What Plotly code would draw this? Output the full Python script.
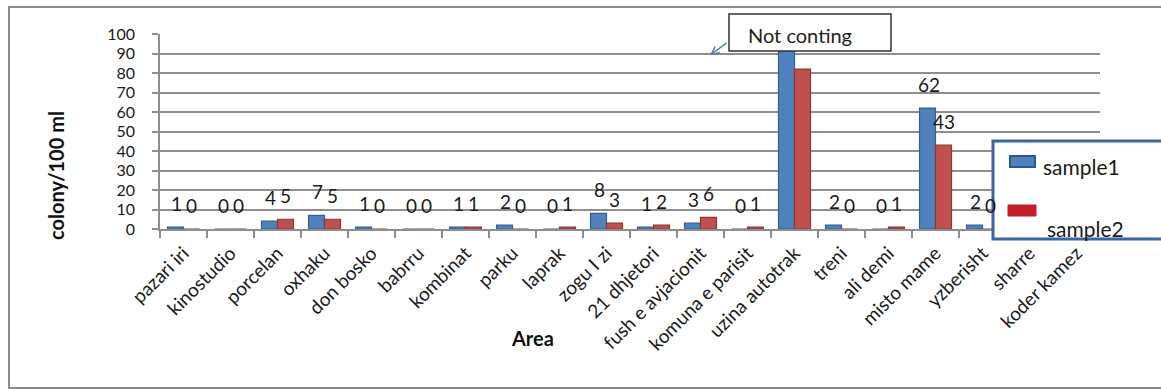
import plotly.graph_objects as go

areas = ["pazari iri", "kinostudio", "porcelan", "oxhaku", "don bosko", "babrru",
         "kombinat", "parku", "laprak", "zogu I zi", "21 dhjetori",
         "fush e avjacionit", "komuna e parisit", "uzina autotrak", "treni",
         "ali demi", "misto mame", "yzberisht", "sharre", "koder kamez"]
sample1 = [1, 0, 4, 7, 1, 0, 1, 2, 0, 8, 1, 3, 0, 100, 2, 0, 62, 2, None, None]
sample2 = [0, 0, 5, 5, 0, 0, 1, 0, 1, 3, 2, 6, 1, 82, 0, 1, 43, 0, None, None]
hidden_labels = {"uzina autotrak", "sharre", "koder kamez"}
note_text = "Not conting"
y_ticks = list(range(0, 101, 10))

W, H = 1161, 390
L, R, T, B = 160, 1100, 34, 229   # plot area in pixels


def px(p):
    return (p - L) / (R - L)


def py(p):
    return (B - p) / (B - T)


FONT = "Lato"
BLUE, RED = "#4F81BD", "#C0504D"
GRID = "#8E8E8E"

fig = go.Figure()
fig.add_trace(go.Bar(x=areas, y=sample1, name="sample1", showlegend=False,
                     marker=dict(color=BLUE, line=dict(color="#36608F", width=1.2))))
fig.add_trace(go.Bar(x=areas, y=sample2, name="sample2", showlegend=False,
                     marker=dict(color=RED, line=dict(color="#8A3835", width=1.2))))

annotations = []
for series, shift in ((sample1, -7), (sample2, 8)):
    for a, v in zip(areas, series):
        if v is None or a in hidden_labels:
            continue
        annotations.append(dict(x=a, y=v, xref="x", yref="y", text=str(v),
                                showarrow=False, xshift=shift, yshift=24,
                                xanchor="center", yanchor="middle",
                                font=dict(family=FONT, size=19, color="#1a1a1a")))

# axis titles
annotations.append(dict(x=px(56), y=py(176), xref="paper", yref="paper",
                        text="<b>colony/100 ml</b>", textangle=-90, showarrow=False,
                        xanchor="center", yanchor="middle",
                        font=dict(family=FONT, size=20, color="#111")))
annotations.append(dict(x=px(532), y=py(338), xref="paper", yref="paper",
                        text="<b>Area</b>", showarrow=False,
                        xanchor="center", yanchor="middle",
                        font=dict(family=FONT, size=20, color="#111")))

# "Not conting" note
annotations.append(dict(x=px(747), y=py(35), xref="paper", yref="paper",
                        text=note_text, showarrow=False, xanchor="left",
                        yanchor="middle", borderpad=0,
                        font=dict(family=FONT, size=20, color="#222")))
annotations.append(dict(x=px(710), y=py(55), xref="paper", yref="paper",
                        text="", showarrow=True, ax=18, ay=-13,
                        arrowcolor="#4A7EBB", arrowwidth=1.5, arrowhead=5,
                        arrowsize=1))

# legend texts
annotations.append(dict(x=px(1041), y=py(166), xref="paper", yref="paper",
                        text="sample1", showarrow=False, xanchor="left",
                        yanchor="middle", font=dict(family=FONT, size=21, color="#1a1a1a")))
annotations.append(dict(x=px(1045), y=py(228), xref="paper", yref="paper",
                        text="sample2", showarrow=False, xanchor="left",
                        yanchor="middle", font=dict(family=FONT, size=21, color="#1a1a1a")))

shapes = [
    # outer chart border
    dict(type="rect", xref="paper", yref="paper", x0=px(9), x1=px(1175),
         y0=py(7), y1=py(388), line=dict(color="#8C8C8C", width=2), layer="below"),
    # note box
    dict(type="rect", xref="paper", yref="paper", x0=px(729), x1=px(891),
         y0=py(14), y1=py(51), fillcolor="white",
         line=dict(color="#333", width=1.5), layer="above"),
    # legend box
    dict(type="rect", xref="paper", yref="paper", x0=px(993), x1=px(1180),
         y0=py(141), y1=py(239), fillcolor="white",
         line=dict(color="#3B64A0", width=3), layer="above"),
    dict(type="rect", xref="paper", yref="paper", x0=px(1010), x1=px(1035),
         y0=py(156), y1=py(167), fillcolor=BLUE,
         line=dict(color="#2E5597", width=2), layer="above"),
    dict(type="rect", xref="paper", yref="paper", x0=px(1008), x1=px(1036),
         y0=py(205), y1=py(216), fillcolor="#C41E2A",
         line=dict(color="#C41E2A", width=1), layer="above"),
]

fig.update_layout(
    width=W, height=H,
    margin=dict(l=L, r=W - R, t=T, b=H - B),
    paper_bgcolor="white", plot_bgcolor="white",
    barmode="group", bargap=0.32, bargroupgap=0,
    annotations=annotations, shapes=shapes,
    font=dict(family=FONT, color="#1a1a1a"),
)
fig.update_xaxes(type="category", tickson="boundaries", ticks="outside",
                 ticklen=7, tickcolor=GRID, tickwidth=1.5, tickangle=-45,
                 showline=True, linecolor=GRID, linewidth=1.5, showgrid=False,
                 ticklabelstandoff=4,
                 tickfont=dict(family=FONT, size=19, color="#1a1a1a"),
                 range=[-0.5, len(areas) - 0.5])
fig.update_yaxes(range=[0, 100], tickvals=y_ticks, ticks="outside", ticklen=6,
                 tickcolor=GRID, tickwidth=1.5, showline=True, linecolor=GRID,
                 linewidth=1.5, gridcolor=GRID, gridwidth=1.5,
                 ticklabelstandoff=14, zeroline=False,
                 tickfont=dict(family=FONT, size=16, color="#1a1a1a"))

fig.write_html("out.html")
